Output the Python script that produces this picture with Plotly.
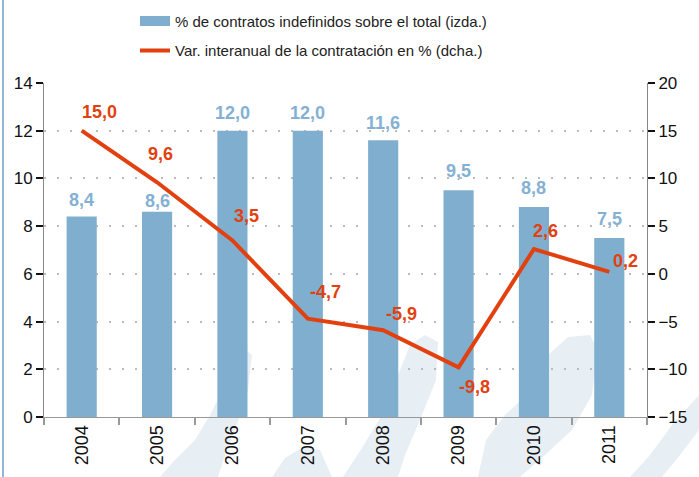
import plotly.graph_objects as go

years = ["2004", "2005", "2006", "2007", "2008", "2009", "2010", "2011"]
pct_indefinidos = [8.4, 8.6, 12.0, 12.0, 11.6, 9.5, 8.8, 7.5]
var_interanual = [15.0, 9.6, 3.5, -4.7, -5.9, -9.8, 2.6, 0.2]
left_ticks = [0, 2, 4, 6, 8, 10, 12, 14]
right_ticks = [-15, -10, -5, 0, 5, 10, 15, 20]

NAME_BAR = "% de contratos indefinidos sobre el total (izda.)"
NAME_LINE = "Var. interanual de la contratación en % (dcha.)"

def fmt(v):
    return f"{v:.1f}".replace(".", ",")

BAR = "#80aecf"
BAR_TXT = "#84b1d3"
LINE = "#e2410f"
FONT = "Liberation Sans, Arial, sans-serif"
NARROW = "Liberation Sans Narrow, Arial Narrow, Liberation Sans, sans-serif"
WM = "#e7eff5"

# plot-area geometry (pixels) used only for decoration placement
L, R, T, B = 44, 647, 83, 417

def px_path(pts):
    s = []
    for i, (x, y) in enumerate(pts):
        px = (x - L) / (R - L)
        py = (B - y) / (B - T)
        s.append(("M" if i == 0 else "L") + f"{px:.4f},{py:.4f}")
    return " ".join(s) + " Z"

watermark = [
    [(160, 477), (175, 460), (195, 440), (210, 415), (225, 385), (237, 355), (245, 349),
     (252, 355), (248, 390), (238, 422), (226, 452), (218, 477)],
    [(272, 477), (285, 458), (303, 447), (320, 450), (332, 477)],
    [(343, 477), (362, 448), (382, 415), (398, 375), (410, 345), (425, 335), (438, 342),
     (436, 380), (420, 420), (405, 455), (398, 477)],
    [(478, 477), (486, 440), (505, 415), (530, 392), (548, 355), (568, 337), (590, 335),
     (598, 350), (592, 395), (572, 430), (545, 455), (520, 477)],
    [(630, 477), (650, 455), (672, 425), (699, 395), (699, 430), (680, 455), (662, 477)],
]

shapes = [dict(type="path", xref="paper", yref="paper", path=px_path(p),
               fillcolor=WM, line=dict(width=0), layer="below") for p in watermark]
shapes.append(dict(type="line", xref="paper", yref="paper",
                   x0=(3 - L) / (R - L), x1=(3 - L) / (R - L), y0=-0.3, y1=1.4,
                   line=dict(color="#6d9cc6", width=1.5)))

# label offsets (pixels) relative to the data point
bar_dy = [17, 11, 18, 18, 17, 19, 19, 19]
line_dx = [18, 3, 14, 18, 18, 16, 12, 16]
line_dy = [19, 28, 24, 27, 16, -20, 18, 11]

annotations = []
for i, (v, dy) in enumerate(zip(pct_indefinidos, bar_dy)):
    annotations.append(dict(x=i, y=v, xref="x", yref="y", text=fmt(v), showarrow=False,
                            yshift=dy, xanchor="center", yanchor="middle",
                            font=dict(color=BAR_TXT, size=18, family=FONT, weight="bold")))
for i, (v, dx, dy) in enumerate(zip(var_interanual, line_dx, line_dy)):
    annotations.append(dict(x=i, y=v, xref="x", yref="y2", text=fmt(v), showarrow=False,
                            xshift=dx, yshift=dy, xanchor="center", yanchor="middle",
                            font=dict(color=LINE, size=18, family=FONT, weight="bold")))

fig = go.Figure()
fig.add_trace(go.Bar(
    x=years, y=pct_indefinidos, name=NAME_BAR,
    marker=dict(color=BAR, line=dict(width=0)), width=0.4,
    showlegend=False, cliponaxis=False,
))
# legend swatch for the bars (wide rectangle as in the original)
fig.add_trace(go.Scatter(
    x=[years[0]], y=[None], mode="lines", name=NAME_BAR,
    line=dict(color=BAR, width=13), legendgroup="a", hoverinfo="skip",
))
fig.add_trace(go.Scatter(
    x=years, y=var_interanual, name=NAME_LINE,
    yaxis="y2", mode="lines",
    line=dict(color=LINE, width=4), cliponaxis=False, legendgroup="b",
))

fig.update_layout(
    width=699, height=477,
    margin=dict(l=L, r=699 - R, t=T, b=477 - B, pad=0, autoexpand=False),
    paper_bgcolor="white", plot_bgcolor="rgba(0,0,0,0)",
    font=dict(family=FONT, color="#111111", size=17),
    showlegend=True,
    legend=dict(
        x=(135 - L) / (R - L), y=1.234, xanchor="left", yanchor="top",
        orientation="v", traceorder="grouped", tracegroupgap=7,
        font=dict(size=15, family=NARROW, color="#222222"),
        bgcolor="rgba(0,0,0,0)", itemwidth=30,
    ),
    xaxis=dict(
        type="category", categoryorder="array", categoryarray=years,
        range=[-0.5, len(years) - 0.5],
        tickson="boundaries", tickangle=-90,
        showline=True, linecolor="#999999", linewidth=1,
        ticks="outside", ticklen=7, tickcolor="#999999", tickwidth=1.5,
        showgrid=False, tickfont=dict(size=18),
    ),
    yaxis=dict(
        range=[0, 14], tickvals=left_ticks, showline=True, linecolor="#888888",
        ticks="outside", ticklen=7, tickcolor="#111111", tickwidth=2,
        showgrid=True, gridcolor="#bbbbbb", griddash="2px,11px", gridwidth=1.5,
        zeroline=False, tickfont=dict(size=17),
    ),
    yaxis2=dict(
        range=[-15, 20], tickvals=right_ticks, overlaying="y", side="right",
        showline=True, linecolor="#888888",
        ticks="outside", ticklen=7, tickcolor="#111111", tickwidth=2,
        showgrid=False, zeroline=False, tickfont=dict(size=17),
    ),
    shapes=shapes,
    annotations=annotations,
)

fig.write_html("out.html", config={"displayModeBar": False},
               post_script="document.body.style.margin='0px';")
